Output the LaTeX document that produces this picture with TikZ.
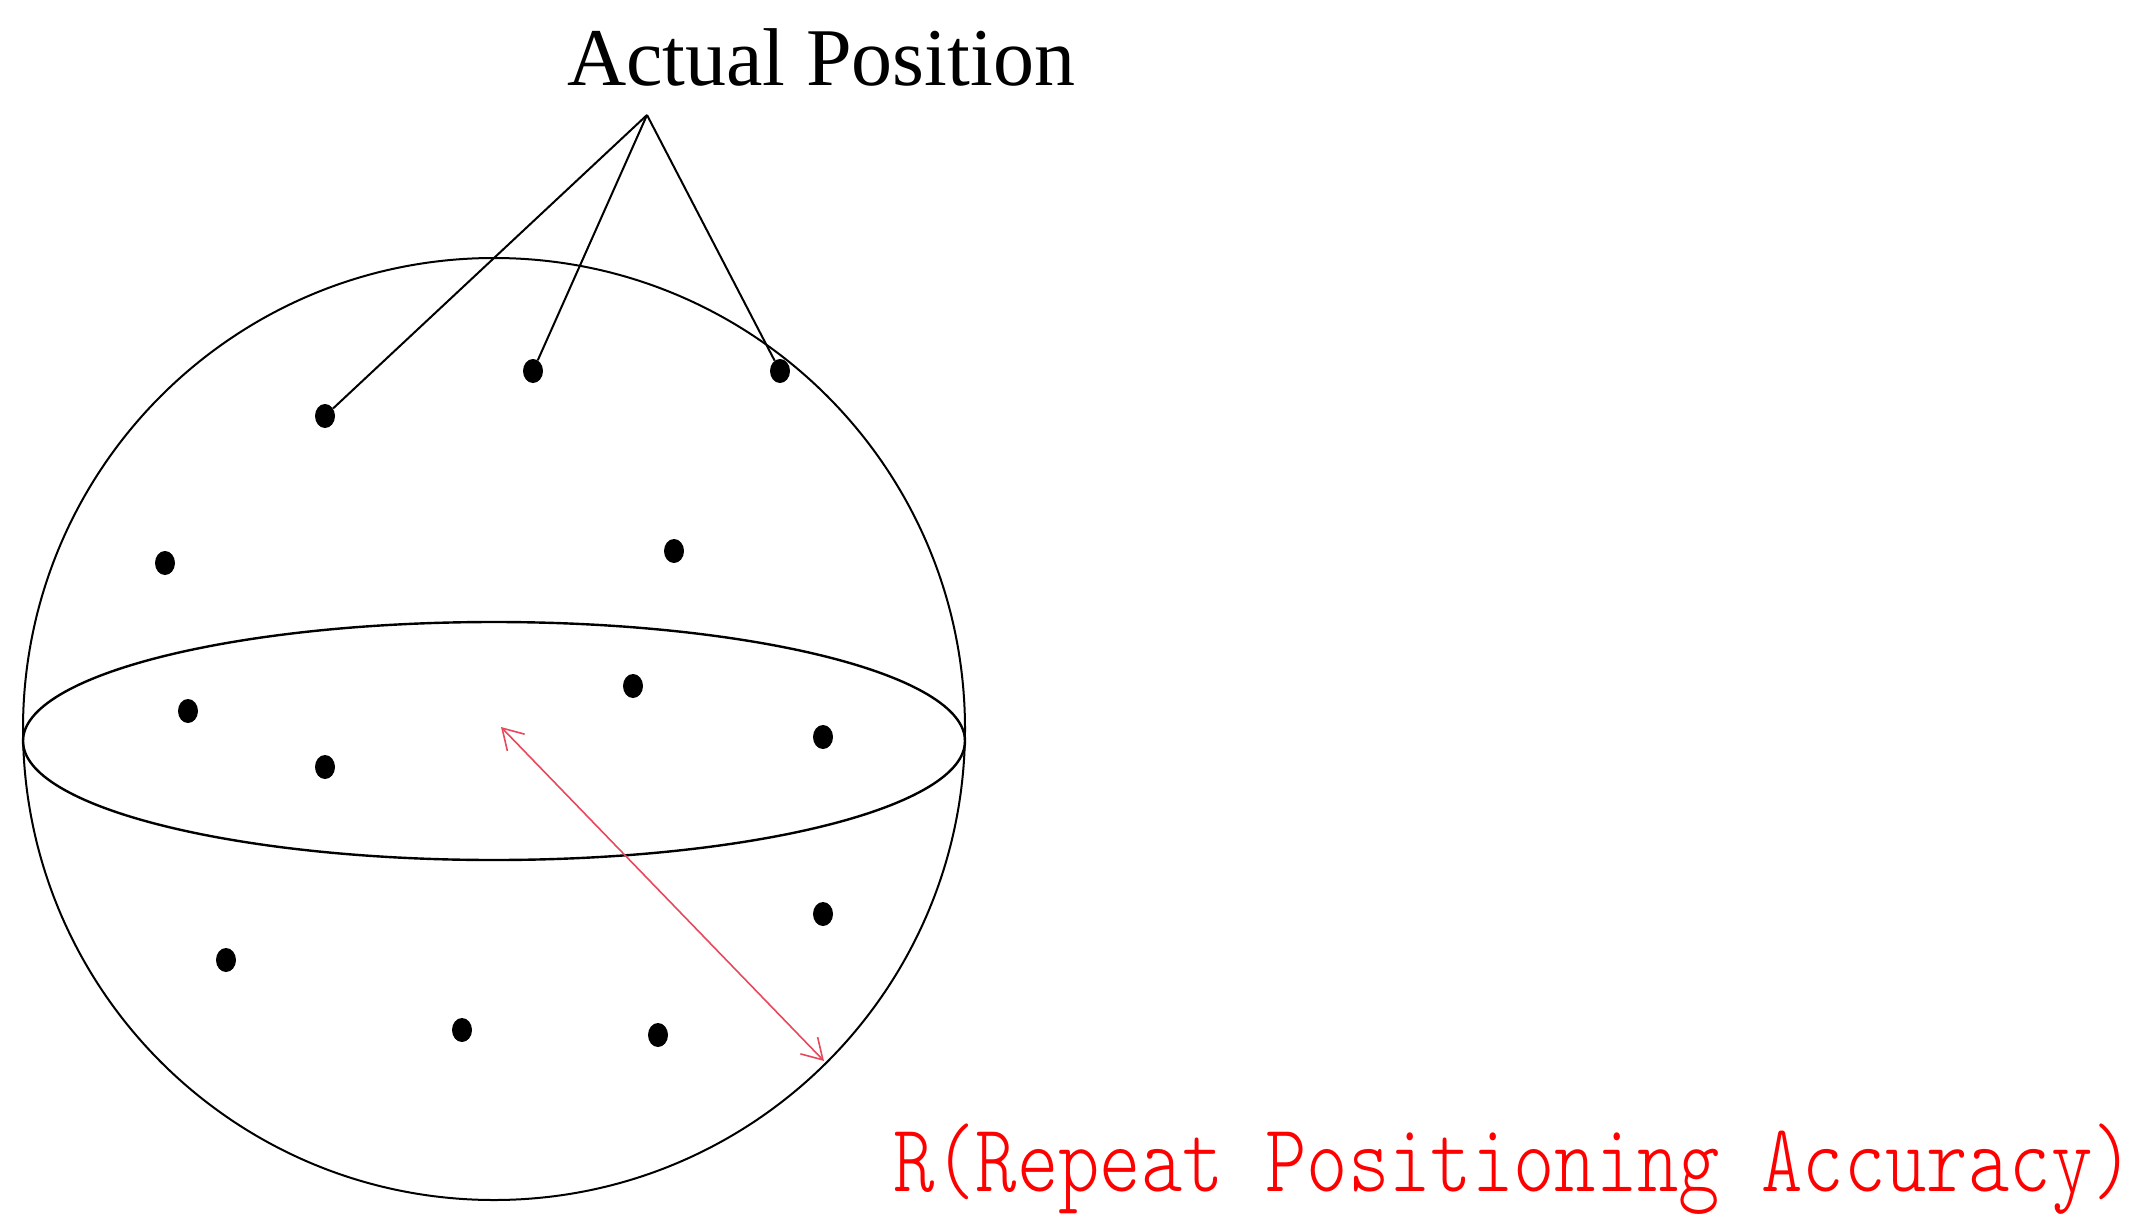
\documentclass[tikz,border=0pt]{standalone}
\usepackage{fontspec}
\usepackage{graphicx}
\setmainfont{Liberation Serif}
\newfontfamily\lightmono{Latin Modern Mono Light}
\usetikzlibrary{shapes.geometric,arrows.meta}
\definecolor{arrowred}{RGB}{232,72,92}
\begin{document}
\begin{tikzpicture}[x=1pt,y=-1pt,
  dotmark/.style={ellipse,fill=black,draw=none,inner sep=0pt,minimum width=20pt,minimum height=24pt},
  outline/.style={draw=black,line width=2pt},
  leader/.style={draw=black,line width=2pt},
  radiusarrow/.style={draw=arrowred,line width=1.6pt,{Straight Barb[length=20pt,width=24pt]}-{Straight Barb[length=20pt,width=24pt]}}
]
\useasboundingbox (0,0) rectangle (2139,1226);
% sphere outline and equator
\draw[outline] (494,729) circle [radius=471pt];
\draw[outline,line width=2.4pt] (494,741) ellipse [x radius=471pt, y radius=119pt];
% dots
\node[dotmark] (d1) at (325,416) {};
\node[dotmark] (d2) at (533,371) {};
\node[dotmark] (d3) at (780,371) {};
\node[dotmark] (d4) at (165,563) {};
\node[dotmark] (d5) at (674,551) {};
\node[dotmark] (d6) at (188,711) {};
\node[dotmark] (d7) at (633,686) {};
\node[dotmark] (d8) at (325,767) {};
\node[dotmark] (d9) at (823,737) {};
\node[dotmark] (d10) at (823,914) {};
\node[dotmark] (d11) at (226,960) {};
\node[dotmark] (d12) at (462,1030) {};
\node[dotmark] (d13) at (658,1035) {};
% label and leaders
\node[anchor=base,inner sep=0pt] (actual) at (821,85) {\fontsize{82}{90}\selectfont Actual Position};
\coordinate (apex) at (647,115);
\draw[leader] (apex) -- (d1);
\draw[leader] (apex) -- (d2);
\draw[leader] (apex) -- (d3);
% radius arrow
\coordinate (ctr) at (501,727);
\coordinate (rim) at (824,1061);
\draw[radiusarrow] (ctr) -- (rim);
\node[anchor=base west,inner sep=0pt,text=red] (rlabel) at (893,1191) {\scalebox{0.812}[1]{\lightmono\fontsize{97}{105}\selectfont R(Repeat Positioning Accuracy)}};
\end{tikzpicture}
\end{document}
